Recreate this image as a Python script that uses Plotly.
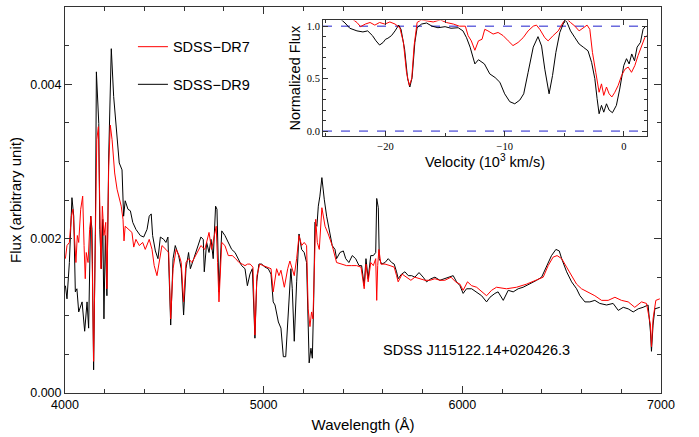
import numpy as np
import plotly.graph_objects as go

# ---------------- main spectrum data (wavelength in Angstrom, flux in 1e-3 arbitrary units)
dr9_wl = [4002,4010,4022,4035,4044,4052,4060,4069,4086,4099,4111,4119,4129,4136,4144,4153,4158,4170,4175,4183,
          4190,4196,4203,4211,4220,4233,4245,4262,4273,4287,4295,4303,4317,4329,4341,4357,4379,4396,4413,4424,
          4434,4441,4455,4468,4480,4497,4508,4518,4532,4544,4555,4572,4585,4597,4609,4622,4631,4648,4664,4684,
          4696,4701,4713,4725,4735,4746,4758,4765,4775,4789,4805,4822,4839,4856,4872,4889,4906,4918,4931,4943,
          4956,4965,4976,4990,5007,5023,5037,5048,5057,5074,5087,5099,5111,5124,5137,5144,5154,5166,5178,5191,
          5204,5216,5224,5229,5238,5245,5252,5258,5268,5275,5283,5293,5305,5317,5334,5345,5359,5367,5384,5401,
          5413,5429,5446,5463,5480,5493,5506,5515,5526,5539,5552,5564,5569,5577,5582,5594,5611,5627,5644,5657,
          5669,5677,5694,5711,5728,5745,5761,5782,5803,5820,5842,5862,5887,5912,5938,5954,5971,5988,6004,6021,
          6047,6072,6097,6122,6139,6164,6180,6206,6231,6256,6281,6306,6340,6374,6399,6424,6449,6471,6488,6500,
          6525,6550,6575,6592,6617,6642,6667,6692,6726,6759,6785,6810,6835,6860,6885,6910,6935,6947,6952,6960,
          6969,6994]
dr9_flux_1e3 = [1.39,1.22,1.69,2.53,2.29,1.31,1.35,1.05,1.18,0.80,1.18,0.84,2.29,2.12,0.30,2.12,4.16,3.49,2.12,1.61,
                2.25,0.96,2.04,1.26,3.07,4.46,3.84,3.24,2.98,2.89,2.29,2.49,2.38,2.36,2.21,2.12,2.04,2.02,2.12,2.29,
                2.32,2.04,1.84,1.74,2.02,1.99,1.95,2.02,0.88,1.74,1.91,1.78,1.61,1.01,1.61,1.82,1.61,1.74,1.86,2.02,
                1.99,1.57,1.95,1.82,1.99,1.74,2.42,2.38,1.31,2.10,2.04,1.95,1.86,1.82,1.74,1.65,1.61,1.39,1.54,1.61,
                0.71,1.44,1.67,1.67,1.63,1.61,1.54,1.18,1.14,0.92,0.84,0.47,0.47,1.01,1.61,1.35,0.67,1.44,2.06,1.86,
                1.82,1.69,0.67,0.39,0.58,0.45,1.22,2.21,2.16,2.42,2.55,2.79,2.51,2.29,2.06,1.91,1.86,1.74,1.82,1.84,
                1.74,1.69,1.78,1.74,1.65,1.65,1.39,1.74,1.48,1.78,1.78,1.82,2.52,2.40,1.74,1.67,1.69,1.74,1.69,1.67,
                1.57,1.48,1.54,1.57,1.52,1.52,1.50,1.56,1.50,1.44,1.48,1.50,1.46,1.48,1.50,1.52,1.44,1.39,1.29,1.35,
                1.35,1.31,1.26,1.18,1.24,1.29,1.31,1.20,1.33,1.31,1.35,1.37,1.41,1.46,1.50,1.65,1.78,1.86,1.84,1.74,
                1.57,1.44,1.35,1.26,1.18,1.18,1.20,1.16,1.14,1.16,1.07,1.11,1.09,1.05,1.09,1.11,1.14,0.79,0.54,0.88,
                1.09,1.11]

dr7_wl = [4002,4010,4022,4032,4040,4049,4055,4062,4069,4079,4089,4096,4102,4107,4116,4124,4131,4137,4144,4153,
          4160,4168,4175,4181,4188,4196,4205,4211,4220,4228,4237,4250,4262,4273,4283,4292,4297,4303,4320,4337,
          4346,4357,4374,4391,4404,4424,4438,4449,4463,4475,4488,4508,4522,4532,4544,4559,4575,4585,4597,4609,
          4622,4639,4656,4684,4704,4725,4738,4751,4761,4768,4775,4789,4805,4822,4842,4859,4876,4892,4906,4919,
          4932,4946,4956,4966,4980,4998,5015,5037,5048,5065,5077,5087,5104,5121,5132,5144,5154,5166,5178,5191,
          5204,5216,5224,5233,5241,5248,5255,5262,5270,5280,5293,5309,5325,5345,5367,5392,5417,5443,5468,5490,
          5506,5515,5526,5539,5552,5564,5569,5574,5580,5590,5611,5636,5657,5669,5677,5697,5720,5741,5761,5787,
          5812,5837,5862,5887,5912,5943,5966,5988,6004,6026,6047,6072,6097,6122,6147,6172,6222,6273,6323,6374,
          6407,6432,6457,6477,6500,6525,6550,6575,6600,6633,6667,6701,6734,6768,6801,6835,6868,6902,6927,6947,
          6952,6960,6974,6994]
dr7_flux_1e3 = [1.74,1.91,1.95,2.29,2.38,1.91,1.69,2.04,1.95,2.38,2.55,1.91,1.48,1.82,1.69,2.12,2.29,1.69,0.41,2.04,
                3.28,3.45,2.55,1.61,2.42,2.04,2.21,1.35,2.94,3.47,3.28,2.85,2.64,2.51,2.42,2.25,1.97,2.16,2.12,2.08,
                1.89,1.99,1.91,1.95,1.86,1.99,1.86,1.65,1.52,1.69,1.91,1.86,1.82,0.96,1.61,1.86,1.78,1.69,1.18,1.69,
                1.74,1.69,1.78,1.91,1.86,2.08,1.86,2.04,2.16,1.69,1.18,1.95,1.91,1.78,1.78,1.74,1.69,1.67,1.65,1.67,
                1.67,1.63,0.75,1.52,1.67,1.65,1.63,1.61,1.31,1.61,1.52,1.59,1.37,1.61,1.71,1.59,1.52,1.74,2.04,1.91,
                1.95,1.91,1.09,0.86,1.05,0.96,1.65,2.25,1.95,1.86,2.40,2.16,2.06,1.91,1.69,1.67,1.65,1.65,1.65,1.63,
                1.35,1.67,1.44,1.69,1.65,1.74,1.20,1.65,1.86,1.67,1.67,1.65,1.63,1.52,1.44,1.54,1.50,1.46,1.50,1.48,
                1.46,1.46,1.48,1.46,1.46,1.50,1.44,1.41,1.33,1.44,1.39,1.37,1.31,1.26,1.33,1.37,1.35,1.37,1.41,1.46,
                1.50,1.65,1.76,1.78,1.74,1.63,1.52,1.41,1.35,1.31,1.26,1.20,1.20,1.24,1.20,1.18,1.11,1.18,1.16,0.88,
                0.60,0.96,1.20,1.22]

# ---------------- inset data (velocity in 10^3 km/s, normalized flux)
dr9_vel = [-25.2,-23.8,-23.4,-23.0,-22.4,-21.9,-21.5,-21.1,-20.8,-20.5,-20.2,-20.0,-19.8,-19.5,-19.2,-18.9,-18.7,-18.4,
           -18.15,-17.96,-17.77,-17.54,-17.35,-16.98,-16.56,-16.1,-15.6,-15.0,-14.5,-13.9,-13.5,-13.2,-12.9,-12.65,
           -12.5,-12.2,-11.9,-11.7,-11.25,-10.8,-10.4,-10.0,-9.57,-9.15,-8.73,-8.4,-8.03,-7.6,-7.2,-6.9,-6.63,-6.27,
           -5.98,-5.7,-5.37,-4.95,-4.76,-4.47,-4.1,-3.75,-3.4,-3.0,-2.7,-2.43,-2.24,-2.07,-1.87,-1.68,-1.45,-1.23,
           -0.95,-0.62,-0.34,0.0,0.23,0.45,0.67,0.9,1.12,1.4,1.62,1.83]
dr9_norm = [1.12,1.07,1.03,0.98,0.955,0.945,0.955,0.91,0.86,0.82,0.845,0.875,0.885,0.91,0.955,1.01,0.97,0.78,
            0.50,0.42,0.51,0.845,0.985,1.02,1.03,1.0,0.985,0.995,0.98,0.985,0.955,0.89,0.80,0.70,
            0.64,0.68,0.655,0.64,0.545,0.51,0.465,0.355,0.28,0.26,0.295,0.355,0.56,0.80,0.90,0.81,0.59,0.355,
            0.53,0.75,0.94,1.06,1.035,0.955,0.89,0.83,0.80,0.765,0.655,0.50,0.31,0.165,0.245,0.18,0.26,0.20,
            0.175,0.245,0.40,0.625,0.69,0.64,0.735,0.67,0.80,0.845,0.97,1.0]

dr7_vel = [-25.2,-23.5,-22.7,-22.4,-22.1,-21.7,-21.3,-20.9,-20.5,-20.06,-19.64,-19.2,-18.8,-18.5,-18.24,-18.0,-17.8,
           -17.6,-17.35,-17.0,-16.0,-15.4,-14.9,-14.3,-13.8,-13.3,-13.07,-12.8,-12.5,-12.2,-11.9,-11.67,-11.4,-10.97,
           -10.55,-10.13,-9.7,-9.3,-8.87,-8.45,-8.03,-7.6,-7.33,-7.05,-6.63,-6.35,-5.93,-5.5,-5.1,-4.8,-4.47,-4.1,
           -3.75,-3.4,-3.08,-2.85,-2.63,-2.35,-2.07,-1.87,-1.68,-1.45,-1.23,-1.0,-0.75,-0.47,-0.18,0.1,0.37,0.65,
           0.93,1.2,1.48,1.76,1.9]
dr7_norm = [1.15,1.10,1.06,1.035,0.995,1.02,1.035,1.01,1.035,1.02,1.04,1.02,0.985,0.845,0.56,0.435,0.50,
            0.815,1.035,1.06,1.04,1.06,1.035,1.02,1.0,1.0,0.91,0.86,0.77,0.86,0.875,0.97,0.955,0.925,
            0.94,0.91,0.86,0.815,0.845,0.89,0.955,1.0,1.01,0.97,0.89,0.86,0.91,0.955,1.035,1.07,1.035,1.0,
            0.955,0.985,1.01,0.97,0.75,0.56,0.37,0.45,0.34,0.42,0.355,0.325,0.37,0.435,0.53,0.59,0.61,0.56,
            0.625,0.72,0.80,0.89,0.91]

ref_levels = [0.0, 1.0]
inset_vrange = [-25.25, 1.95]

dr9_flux = np.array(dr9_flux_1e3) * 1e-3
dr7_flux = np.array(dr7_flux_1e3) * 1e-3

SANS = "Liberation Sans, Arial, Helvetica, sans-serif"
SERIF = "Liberation Serif, Times New Roman, serif"
AX = "#333333"

fig = go.Figure()

# inset reference lines
for lv in ref_levels:
    fig.add_trace(go.Scatter(x=inset_vrange, y=[lv, lv], mode="lines",
                             line=dict(color="#1f1fcc", width=1, dash="dash"),
                             xaxis="x2", yaxis="y2", showlegend=False, hoverinfo="skip"))

fig.add_trace(go.Scatter(x=dr9_wl, y=dr9_flux, mode="lines", name="SDSS\u2212DR9",
                         line=dict(color="black", width=1), legend="legend2"))
fig.add_trace(go.Scatter(x=dr7_wl, y=dr7_flux, mode="lines", name="SDSS\u2212DR7",
                         line=dict(color="#ff0000", width=1), legend="legend"))

fig.add_trace(go.Scatter(x=dr9_vel, y=dr9_norm, mode="lines", line=dict(color="black", width=1),
                         xaxis="x2", yaxis="y2", showlegend=False))
fig.add_trace(go.Scatter(x=dr7_vel, y=dr7_norm, mode="lines", line=dict(color="#ff0000", width=1),
                         xaxis="x2", yaxis="y2", showlegend=False))

fig.update_layout(
    width=699, height=437,
    margin=dict(l=65, r=38, t=6, b=42),
    paper_bgcolor="white", plot_bgcolor="white",
    font=dict(family=SANS, size=14, color="black"),
    xaxis=dict(domain=[0, 1], range=[4000, 7000], dtick=1000, tick0=4000,
               ticks="inside", ticklen=7, tickwidth=1, tickcolor=AX,
               minor=dict(dtick=200, ticks="inside", ticklen=4, tickcolor=AX),
               showline=True, linecolor=AX, linewidth=1, mirror="ticks",
               showgrid=False, zeroline=False,
               tickfont=dict(size=12.5, family=SANS),
               title=dict(text="Wavelength (Å)", font=dict(size=15, family=SANS), standoff=8)),
    yaxis=dict(domain=[0, 1], range=[0, 0.005], dtick=0.002, tick0=0, tickformat=".3f",
               ticks="inside", ticklen=7, tickwidth=1, tickcolor=AX,
               minor=dict(dtick=0.0005, ticks="inside", ticklen=4, tickcolor=AX),
               showline=True, linecolor=AX, linewidth=1, mirror="ticks",
               showgrid=False, zeroline=False,
               tickfont=dict(size=12.5, family=SANS),
               title=dict(text="Flux (arbitrary unit)", font=dict(size=15, family=SANS), standoff=4)),
    xaxis2=dict(domain=[0.4329, 0.9765], anchor="y2", range=inset_vrange, dtick=10, tick0=0,
                ticks="inside", ticklen=5, tickwidth=1, tickcolor=AX,
                minor=dict(dtick=5, ticks="inside", ticklen=3, tickcolor=AX),
                showline=True, linecolor=AX, linewidth=1, mirror="ticks",
                showgrid=False, zeroline=False,
                tickfont=dict(size=10.5, family=SERIF),
                title=dict(text="Velocity (10<sup>3</sup> km/s)", font=dict(size=14.5, family=SANS), standoff=4)),
    yaxis2=dict(domain=[0.6658, 0.9653], anchor="x2", range=[-0.047, 1.055], dtick=0.5, tick0=0,
                tickformat=".1f",
                ticks="inside", ticklen=5, tickwidth=1, tickcolor=AX,
                minor=dict(dtick=0.1, ticks="inside", ticklen=3, tickcolor=AX),
                showline=True, linecolor=AX, linewidth=1, mirror="ticks",
                showgrid=False, zeroline=False,
                tickfont=dict(size=10.5, family=SERIF),
                title=dict(text="Normalized Flux", font=dict(size=14.5, family=SANS), standoff=2)),
    legend=dict(x=0.114, y=0.897, xanchor="left", yanchor="middle", bgcolor="rgba(0,0,0,0)",
                font=dict(size=14.5, family=SANS), itemwidth=30),
    legend2=dict(x=0.114, y=0.7995, xanchor="left", yanchor="middle", bgcolor="rgba(0,0,0,0)",
                 font=dict(size=14.5, family=SANS), itemwidth=30),
    annotations=[dict(text="SDSS J115122.14+020426.3", xref="paper", yref="paper",
                      x=0.691, y=0.111, xanchor="center", yanchor="middle", showarrow=False,
                      font=dict(size=14.5, family=SANS))],
)

fig.write_html("out.html")
